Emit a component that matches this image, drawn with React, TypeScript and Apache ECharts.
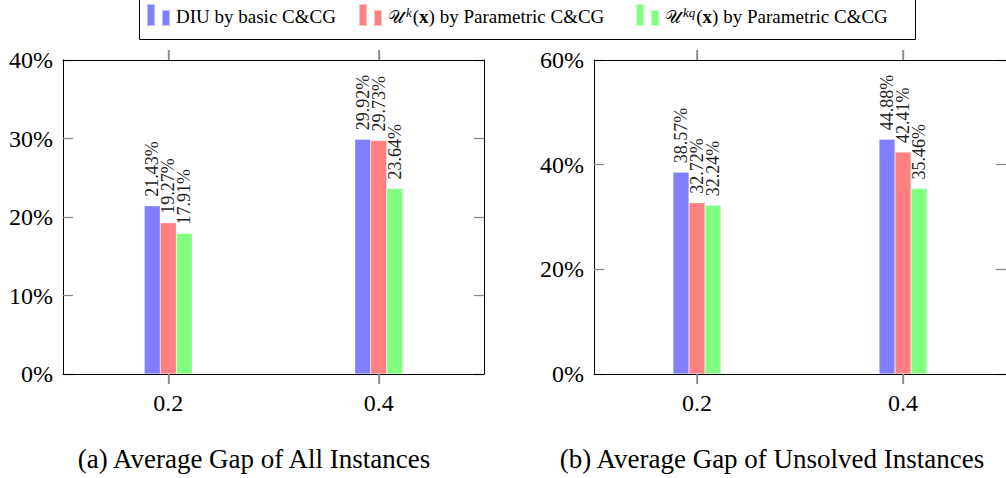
import React, { useEffect, useRef } from 'react';
import * as echarts from 'echarts';

const categories = ['0.2', '0.4'];
const seriesNames = ['DIU', 'Uk', 'Ukq'];
const allDIU = [21.43, 29.92];
const allUk = [19.27, 29.73];
const allUkq = [17.91, 23.64];
const unsolvedDIU = [38.57, 44.88];
const unsolvedUk = [32.72, 42.41];
const unsolvedUkq = [32.24, 35.46];
const colors = ['#8080ff', '#ff8080', '#80ff80'];
const captions = ['(a) Average Gap of All Instances', '(b) Average Gap of Unsolved Instances'];
const xMin = 0.1;
const xMax = 0.5;
const yMax = [40, 60];
const yInterval = [10, 20];

const FONT = 'Liberation Serif';
const TICK_COLOR = '#8a8a8a';

export default function App() {
  const ref = useRef<HTMLDivElement>(null);
  useEffect(() => {
    if (!ref.current) return;
    const chart = echarts.init(ref.current, undefined, { renderer: 'svg' });
    const xValues = categories.map(Number);
    const grids = [
      { left: 63, top: 60, width: 421, height: 314 },
      { left: 594, top: 60, width: 420, height: 314 },
    ];
    const xAxis: any[] = [];
    const yAxis: any[] = [];
    grids.forEach((_, gi) => {
      xAxis.push({
        type: 'value', gridIndex: gi, min: xMin, max: xMax, position: 'bottom', z: 10,
        splitLine: { show: false },
        axisLine: { show: true, onZero: false, lineStyle: { color: '#000', width: 1 } },
        axisTick: { show: true, customValues: xValues, length: 10, lineStyle: { color: TICK_COLOR, width: 1.5 } },
        axisLabel: { customValues: xValues, fontFamily: FONT, fontSize: 24, color: '#000', margin: 17, formatter: (v: number) => String(v) },
      });
      xAxis.push({
        type: 'value', gridIndex: gi, min: xMin, max: xMax, position: 'top', z: 10,
        splitLine: { show: false },
        axisLine: { show: true, onZero: false, lineStyle: { color: '#000', width: 1 } },
        axisTick: { show: true, customValues: xValues, length: 10, lineStyle: { color: TICK_COLOR, width: 1.5 } },
        axisLabel: { show: false },
      });
      yAxis.push({
        type: 'value', gridIndex: gi, min: 0, max: yMax[gi], interval: yInterval[gi], position: 'left',
        splitLine: { show: false },
        axisLine: { show: true, onZero: false, lineStyle: { color: '#000', width: 1 } },
        axisTick: { show: true, inside: true, length: 10, lineStyle: { color: TICK_COLOR, width: 1.3 } },
        axisLabel: { fontFamily: FONT, fontSize: 24, color: '#000', margin: 10, formatter: '{value}%' },
      });
      yAxis.push({
        type: 'value', gridIndex: gi, min: 0, max: yMax[gi], interval: yInterval[gi], position: 'right',
        splitLine: { show: false },
        axisLine: { show: true, onZero: false, lineStyle: { color: '#000', width: 1 } },
        axisTick: { show: true, inside: true, length: 10, lineStyle: { color: TICK_COLOR, width: 1.3 } },
        axisLabel: { show: false },
      });
    });
    const data = [[allDIU, allUk, allUkq], [unsolvedDIU, unsolvedUk, unsolvedUkq]];
    const series: any[] = [];
    data.forEach((group, gi) => {
      group.forEach((vals, si) => {
        series.push({
          type: 'bar', name: seriesNames[si], xAxisIndex: gi * 2, yAxisIndex: gi * 2,
          data: vals.map((v, i) => [xValues[i], v]), barWidth: 16, barGap: '0%',
          itemStyle: { color: colors[si], borderColor: 'rgba(255,255,255,0.5)', borderWidth: 0.5 },
          label: {
            show: true, position: 'top', rotate: 90, align: 'left', verticalAlign: 'middle', distance: 9,
            fontFamily: FONT, fontSize: 18, color: '#222',
            formatter: (p: any) => Number(p.value[1]).toFixed(2) + '%',
          },
        });
      });
    });
    const icon = 'path://M0,0h8v22h-8z M15,6h8v16h-8z';
    const legendLeft = [146, 358, 635];
    const legendFmt: Record<string, string> = {
      DIU: '{n|DIU by basic C&CG}',
      Uk: '{u|𝒰}{sup|k}{n|(}{b|x}{n|) by Parametric C&CG}',
      Ukq: '{u|𝒰}{sup|kq}{n|(}{b|x}{n|) by Parametric C&CG}',
    };
    const rich = {
      n: { fontFamily: FONT, fontSize: 19, color: '#000', lineHeight: 22 },
      u: { fontFamily: FONT, fontSize: 18, color: '#000', lineHeight: 22, padding: [0, 1, 0, 0] },
      sup: { fontFamily: FONT, fontSize: 13, color: '#000', fontStyle: 'italic', lineHeight: 13, verticalAlign: 'top', padding: [0, 1, 0, 1] },
      b: { fontFamily: FONT, fontSize: 19, color: '#000', fontWeight: 'bold', lineHeight: 22 },
    };
    const legend = seriesNames.map((nm, i) => ({
      data: [nm], left: legendLeft[i], top: 3, padding: 0, itemWidth: 23, itemHeight: 22, itemGap: 0,
      icon, selectedMode: false,
      formatter: (name: string) => legendFmt[name],
      textStyle: { fontFamily: FONT, fontSize: 19, color: '#000', rich, padding: [3, 0, 0, 1] },
    }));
    const baseGraphic: any[] = [
      { type: 'rect', shape: { x: 139.5, y: -2, width: 776, height: 41.5 }, style: { fill: 'none', stroke: '#000', lineWidth: 1 }, z: 100 },
      { type: 'text', x: 254, y: 459, style: { text: captions[0], fontFamily: FONT, fontSize: 27, fill: '#000', align: 'center', verticalAlign: 'middle' } },
      { type: 'text', x: 772, y: 459, style: { text: captions[1], fontFamily: FONT, fontSize: 27, fill: '#000', align: 'center', verticalAlign: 'middle' } },
    ];
    chart.setOption({
      animation: false,
      backgroundColor: '#fff',
      color: colors,
      grid: grids,
      xAxis, yAxis, series, legend,
      graphic: baseGraphic,
    });
    // x tick marks outside the frame, positioned through the axes' own scales
    const tickGraphic: any[] = [];
    grids.forEach((_, gi) => {
      xValues.forEach((xv) => {
        const top = chart.convertToPixel({ xAxisIndex: gi * 2, yAxisIndex: gi * 2 }, [xv, yMax[gi]]) as number[];
        const bot = chart.convertToPixel({ xAxisIndex: gi * 2, yAxisIndex: gi * 2 }, [xv, 0]) as number[];
        if (!top || !bot) return;
        const x = Math.round(top[0]) + 0.5;
        tickGraphic.push({ type: 'line', shape: { x1: x, y1: top[1] - 10, x2: x, y2: top[1] }, style: { stroke: TICK_COLOR, lineWidth: 1.3 }, z: 50 });
        tickGraphic.push({ type: 'line', shape: { x1: x, y1: bot[1], x2: x, y2: bot[1] + 10 }, style: { stroke: TICK_COLOR, lineWidth: 1.3 }, z: 50 });
      });
    });
    chart.setOption({ graphic: [...baseGraphic, ...tickGraphic] });
    return () => chart.dispose();
  }, []);
  return <div ref={ref} style={{ position: 'fixed', left: 0, top: 0, width: 1006, height: 478 }} />;
}
